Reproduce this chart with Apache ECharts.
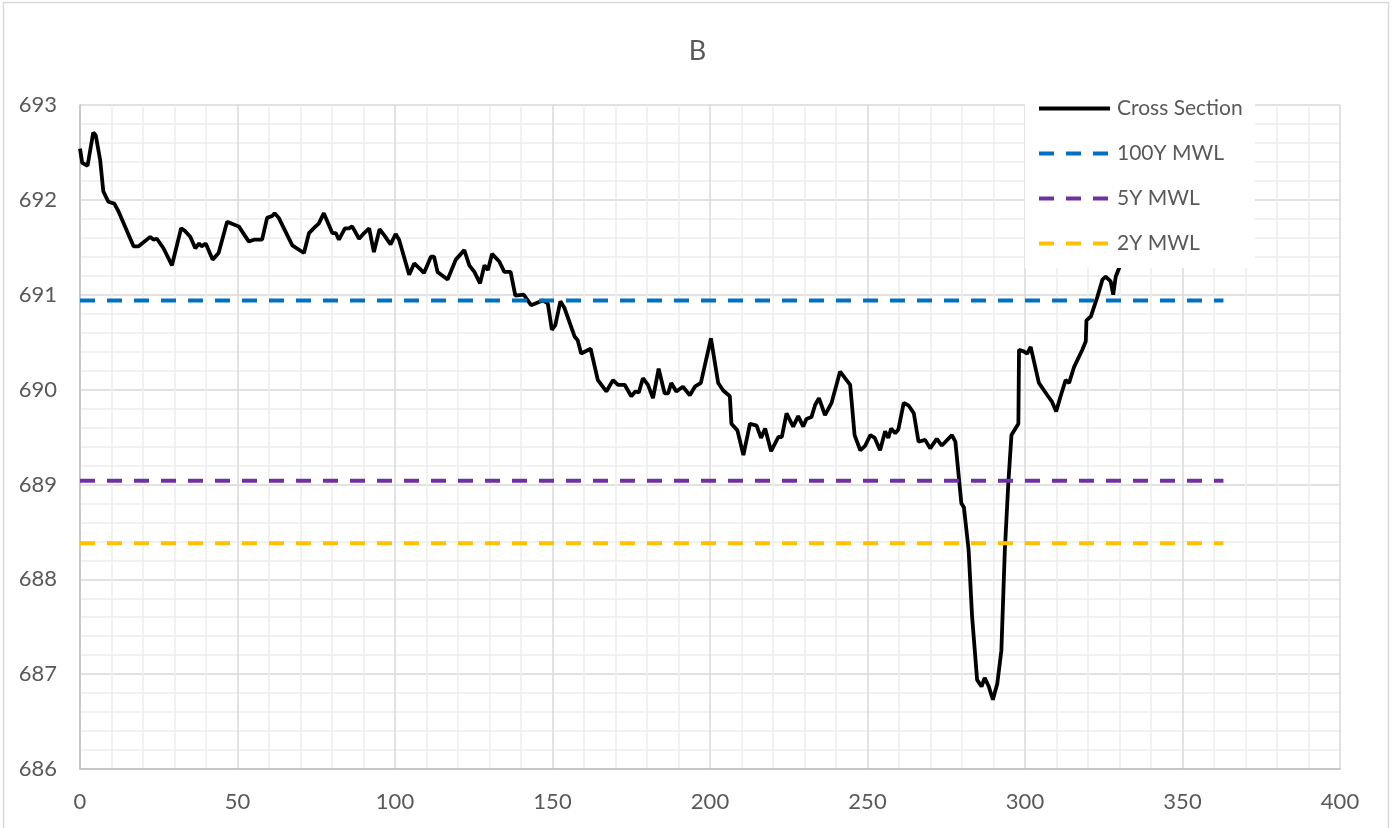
<!DOCTYPE html>
<html>
<head>
<meta charset="utf-8">
<title>B</title>
<script src="https://cdn.jsdelivr.net/npm/echarts/dist/echarts.min.js"></script>
<style>
    html, body { margin: 0; padding: 0; background: #fff; }
    #chart { width: 1395px; height: 828px; }
</style>
</head>
<body>
<div id="chart"></div>
<script>
// station (m) along the section
var station = [
    0, 0.7, 2.4, 4.2, 5.0, 6.4, 7.4, 9.0, 10.9, 12.2, 17.0, 18.6, 22.3, 23.3, 24.4, 26.5, 29.2,
    32.1, 33.4, 35.0, 35.5, 36.6, 37.8, 38.6, 39.9, 42.1, 44.0, 46.7, 50.4, 53.6, 55.2, 57.8,
    59.4, 61.0, 61.8, 63.1, 67.4, 71.1, 72.7, 74.8, 75.8, 77.4, 80.1, 81.2, 82.2, 84.1, 85.4,
    86.4, 88.6, 90.2, 91.8, 93.3, 95.1, 96.5, 98.6, 100.2, 101.3, 104.5, 106.1, 107.7, 109.2,
    111.4, 112.4, 113.5, 116.7, 119.3, 122.0, 123.6, 125.2, 127.0, 128.4, 129.5, 130.8, 133.1,
    134.7, 136.7, 138.2, 140.9, 143.2, 146.9, 148.5, 149.8, 150.9, 152.5, 153.8, 157.0, 158.0,
    159.1, 162.1, 164.4, 167.1, 169.2, 170.8, 172.9, 175.0, 176.3, 177.4, 178.7, 180.3, 181.9,
    183.7, 185.6, 186.7, 187.7, 189.3, 191.4, 193.6, 195.2, 197.1, 200.3, 202.6, 204.2, 206.3,
    206.8, 208.7, 210.6, 212.7, 214.8, 216.2, 217.5, 219.4, 221.7, 222.8, 224.3, 226.4, 228.0,
    229.6, 230.6, 232.2, 233.4, 234.6, 236.5, 238.6, 241.3, 244.5, 245.9, 247.7, 249.3, 250.9,
    252.3, 254.0, 255.6, 256.6, 257.5, 258.8, 259.8, 261.5, 263.1, 264.7, 266.2, 268.3, 269.9,
    272.0, 273.6, 276.8, 277.9, 279.8, 280.6, 282.1, 283.2, 284.8, 286.2, 287.2, 288.5, 289.8,
    291.2, 292.5, 293.6, 294.7, 295.7, 297.9, 298.1, 299.7, 300.7, 301.8, 304.4, 307.1, 308.6,
    309.9, 311.3, 312.9, 314.0, 315.6, 318.2, 319.3, 319.5, 320.9, 323.0, 324.6, 325.6, 327.2,
    328.0, 328.8, 330.1
];

// ground elevation (m)
var elevation = [
    692.54, 692.39, 692.36, 692.71, 692.68, 692.42, 692.09, 691.98, 691.96, 691.88, 691.51, 691.51, 691.61, 691.58, 691.59, 691.49, 691.31,
    691.70, 691.67, 691.61, 691.62, 691.49, 691.54, 691.51, 691.54, 691.37, 691.44, 691.77, 691.72, 691.56, 691.58, 691.58,
    691.81, 691.83, 691.86, 691.81, 691.52, 691.44, 691.65, 691.72, 691.75, 691.86, 691.65, 691.65, 691.58, 691.70, 691.70,
    691.72, 691.59, 691.65, 691.70, 691.45, 691.69, 691.63, 691.53, 691.64, 691.58, 691.21, 691.33, 691.28, 691.23,
    691.40, 691.40, 691.24, 691.16, 691.37, 691.47, 691.31, 691.24, 691.12, 691.31, 691.26, 691.43, 691.35,
    691.24, 691.24, 690.99, 691.00, 690.89, 690.94, 690.91, 690.63, 690.68, 690.93, 690.86, 690.56, 690.52,
    690.38, 690.43, 690.10, 689.98, 690.10, 690.05, 690.05, 689.93, 689.98, 689.97, 690.12, 690.05, 689.91,
    690.22, 689.96, 689.96, 690.07, 689.98, 690.03, 689.94, 690.03, 690.07, 690.54, 690.07, 689.99, 689.93,
    689.64, 689.57, 689.31, 689.64, 689.62, 689.49, 689.59, 689.35, 689.50, 689.50, 689.75, 689.61, 689.72,
    689.61, 689.69, 689.71, 689.84, 689.91, 689.73, 689.86, 690.19, 690.05, 689.52, 689.36, 689.41, 689.52,
    689.49, 689.36, 689.56, 689.49, 689.59, 689.54, 689.58, 689.86, 689.83, 689.75, 689.45, 689.47, 689.38,
    689.48, 689.41, 689.52, 689.45, 688.80, 688.76, 688.31, 687.61, 686.94, 686.87, 686.96, 686.87, 686.73,
    686.90, 687.25, 688.31, 689.01, 689.52, 689.64, 690.42, 690.40, 690.38, 690.45, 690.07, 689.94, 689.87,
    689.77, 689.93, 690.10, 690.07, 690.24, 690.42, 690.51, 690.73, 690.77, 690.98, 691.16, 691.19, 691.14,
    691.00, 691.19, 691.30
];

// water levels
var mwlNames = ['100Y MWL', '5Y MWL', '2Y MWL'];
var mwlLevels = [690.94, 689.04, 688.38];
var mwlColors = ['#0070C0', '#7030A0', '#FFC000'];
var mwlRange = [0, 363];

var textColor = '#595959';
var font = 'Lato';
var dash = [15, 12];

var chart = echarts.init(document.getElementById('chart'));

var series = [{
    name: 'Cross Section',
    type: 'line',
    symbol: 'none',
    z: 2,
    lineStyle: { color: '#000', width: 3.8 },
    itemStyle: { color: '#000' },
    data: station.map(function (s, i) { return [s, elevation[i]]; })
}];
var legendData = [{ name: 'Cross Section', lineStyle: { width: 3.8 } }];

for (var i = 0; i < mwlNames.length; i++) {
    series.push({
        name: mwlNames[i],
        type: 'line',
        symbol: 'none',
        z: 2,
        lineStyle: { color: mwlColors[i], width: 4, type: dash },
        itemStyle: { color: mwlColors[i] },
        data: [[mwlRange[0], mwlLevels[i]], [mwlRange[1], mwlLevels[i]]]
    });
    legendData.push({ name: mwlNames[i], lineStyle: { width: 4, type: dash } });
}

chart.setOption({
    animation: false,
    backgroundColor: '#fff',
    title: {
        text: 'B',
        left: 'center',
        top: 33,
        textStyle: { color: textColor, fontSize: 27, fontWeight: 'normal', fontFamily: font }
    },
    graphic: [{
        type: 'rect',
        z: 1,
        shape: { x: 3.5, y: 2.5, width: 1385, height: 840 },
        style: { fill: 'none', stroke: '#d9d9d9', lineWidth: 1.5 }
    }, {
        type: 'rect',
        z: 3,
        shape: { x: 1025, y: 88, width: 230, height: 180 },
        style: { fill: '#fff' }
    }],
    legend: {
        orient: 'vertical',
        left: 1037,
        top: 98,
        padding: 0,
        itemWidth: 71,
        itemHeight: 14,
        itemGap: 24,
        z: 4,
        itemStyle: { opacity: 0 },
        textStyle: { color: textColor, fontSize: 21, fontFamily: font, padding: [0, 0, 0, 2] },
        data: legendData
    },
    grid: { left: 80, right: 55, top: 105, bottom: 59 },
    xAxis: {
        type: 'value',
        min: 0,
        max: 400,
        interval: 50,
        axisLine: { show: true, lineStyle: { color: '#bfbfbf', width: 1.5 } },
        axisTick: { show: false },
        axisLabel: { color: textColor, fontSize: 22, fontFamily: font, margin: 22 },
        splitLine: { lineStyle: { color: '#d9d9d9', width: 1.5 } },
        minorTick: { show: false, splitNumber: 5 },
        minorSplitLine: { show: true, lineStyle: { color: '#ededed', width: 1.5 } }
    },
    yAxis: {
        type: 'value',
        min: 686,
        max: 693,
        interval: 1,
        axisLine: { show: true, lineStyle: { color: '#bfbfbf', width: 1.5 } },
        axisTick: { show: false },
        axisLabel: { color: textColor, fontSize: 22, fontFamily: font, margin: 23 },
        splitLine: { lineStyle: { color: '#d9d9d9', width: 1.5 } },
        minorTick: { show: false, splitNumber: 5 },
        minorSplitLine: { show: true, lineStyle: { color: '#ededed', width: 1.5 } }
    },
    series: series
});
</script>
</body>
</html>
